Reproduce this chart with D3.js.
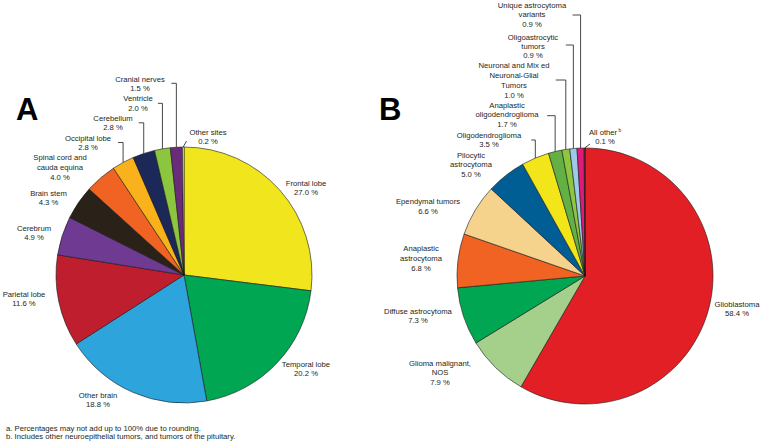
<!DOCTYPE html>
<html><head><meta charset="utf-8">
<script src="https://cdn.jsdelivr.net/npm/d3@7"></script>
<style>
html,body{margin:0;padding:0;background:#fff;}
text{font-family:"Liberation Sans",Arial,Helvetica,sans-serif;fill:#231f20;}
</style></head>
<body><svg id="c" width="760" height="443"></svg>
<script>
// ---- Data ----
const categoriesA = ["Frontal lobe","Temporal lobe","Other brain","Parietal lobe","Cerebrum","Brain stem",
  "Spinal cord and cauda equina","Occipital lobe","Cerebellum","Ventricle","Cranial nerves","Other sites"];
const valuesA = [27.0,20.2,18.8,11.6,4.9,4.3,4.0,2.8,2.8,2.0,1.5,0.2];

const categoriesB = ["Glioblastoma","Glioma malignant, NOS","Diffuse astrocytoma","Anaplastic astrocytoma",
  "Ependymal tumors","Pilocytic astrocytoma","Oligodendroglioma","Anaplastic oligodendroglioma",
  "Neuronal and Mixed Neuronal-Glial Tumors","Oligoastrocytic tumors","Unique astrocytoma variants","All other"];
const valuesB = [58.4,7.9,7.3,6.8,6.6,5.0,3.5,1.7,1.0,0.9,0.9,0.1];

const footnotes = ["a. Percentages may not add up to 100% due to rounding.",
  "b. Includes other neuroepithelial tumors, and tumors of the pituitary."];

// ---- Styles ----
const colorsA = ["#f1e51d","#00a651","#2ea4dd","#be1e2d","#6e3a92","#2a2118","#f06322","#f9b21b","#1c2858","#8cc63f","#6a2c7a","#ffffff"];
const colorsB = ["#e31f26","#a5d08b","#00a651","#f06322","#f6d38c","#005e94","#f2e61b","#63b045","#8dc63f","#9ecae9","#e0197a","#a51d38"];

// ---- Layout (label placement) ----
const layoutA = [
  {lines:["Frontal lobe"], x:306, y:183},
  {lines:["Temporal lobe"], x:306, y:364},
  {lines:["Other brain"], x:98, y:395},
  {lines:["Parietal lobe"], x:24, y:294},
  {lines:["Cerebrum"], x:34, y:228},
  {lines:["Brain stem"], x:48.5, y:193},
  {lines:["Spinal cord and","cauda equina"], x:60, y:157.5},
  {lines:["Occipital lobe"], x:88, y:138, tick:5, ty:142.5},
  {lines:["Cerebellum"], x:113, y:118, tick:5, ty:122.8},
  {lines:["Ventricle"], x:138, y:98.5, tick:4.5, ty:103.3},
  {lines:["Cranial nerves"], x:140, y:79, tick:5, ty:83.3}
  ,{lines:["Other sites"], x:208, y:132, slant:[186.5,141]}
];
const layoutB = [
  {lines:["Glioblastoma"], x:737, y:304},
  {lines:["Glioma malignant,","NOS"], x:440, y:363},
  {lines:["Diffuse astrocytoma"], x:418, y:311},
  {lines:["Anaplastic","astrocytoma"], x:421, y:248.5},
  {lines:["Ependymal tumors"], x:428, y:201.5},
  {lines:["Pilocytic","astrocytoma"], x:471, y:155},
  {lines:["Oligodendroglioma"], x:489, y:135, tick:4, ty:140},
  {lines:["Anaplastic","oligodendroglioma"], x:507, y:105, tick:8, ty:115.7},
  {lines:["Neuronal and Mix ed","Neuronal-Glial","Tumors"], x:514, y:65.5, tick:10, ty:80},
  {lines:["Oligoastrocytic","tumors"], x:533, y:37, tick:7.5, ty:45, lh:9.2},
  {lines:["Unique astrocytoma","variants"], x:532, y:5, tick:8, ty:15},
  {lines:["All other"], x:605, y:132, slant:[590,144], sup:"b"}
];

const svg = d3.select("#c");
const R = 128, LH = 9.8, FS = 7.7;

function drawPie(cx, cy, values, colors, layout) {
  const g = svg.append("g").attr("transform", `translate(${cx},${cy})`);
  const arcs = d3.pie().sort(null).value(d => d)(values);
  const arc = d3.arc().innerRadius(0).outerRadius(R);
  g.selectAll("path").data(arcs).join("path")
    .attr("d", arc)
    .attr("fill", (d,i) => colors[i])
    .attr("stroke", "#1a1a1a").attr("stroke-width", 0.6).attr("stroke-linejoin","round");

  arcs.forEach((a, i) => {
    const L = layout[i];
    const lh = L.lh || LH;
    const mid = (a.startAngle + a.endAngle) / 2;
    const px = cx + R * Math.sin(mid), py = cy - R * Math.cos(mid);
    const t = svg.append("text").attr("text-anchor","middle").attr("font-size", FS);
    const lines = L.lines.concat([values[i].toFixed(1) + " %"]);
    lines.forEach((s, k) => {
      const ts = t.append("tspan").attr("x", L.x).attr("y", L.y + k*lh).attr("dy","0.35em").text(s);
      if (k === 0 && L.sup) {
        ts.append("tspan").attr("font-size", FS*0.6).attr("dy","-0.5em").text(" " + L.sup);
      }
    });
    if (L.tick) {
      svg.append("path")
        .attr("d", `M${px - L.tick},${L.ty}H${px}V${py}`)
        .attr("fill","none").attr("stroke","#333").attr("stroke-width",0.9);
    }
    if (L.slant) {
      svg.append("path").attr("d", `M${L.slant[0]},${L.slant[1]}L${px},${py}`)
        .attr("fill","none").attr("stroke","#333").attr("stroke-width",0.9);
    }
  });
}

drawPie(184, 275, valuesA, colorsA, layoutA);
drawPie(585, 276, valuesB, colorsB, layoutB);

svg.append("text").attr("x",16).attr("y",120).attr("font-size",31).attr("font-weight","bold")
  .style("fill","#000").text("A");
svg.append("text").attr("x",379).attr("y",120).attr("font-size",31).attr("font-weight","bold")
  .style("fill","#000").text("B");

footnotes.forEach((f,i) => {
  svg.append("text").attr("x",6).attr("y",428 + i*8.6).attr("dy","0.35em").attr("font-size",FS).text(f);
});
</script></body></html>
